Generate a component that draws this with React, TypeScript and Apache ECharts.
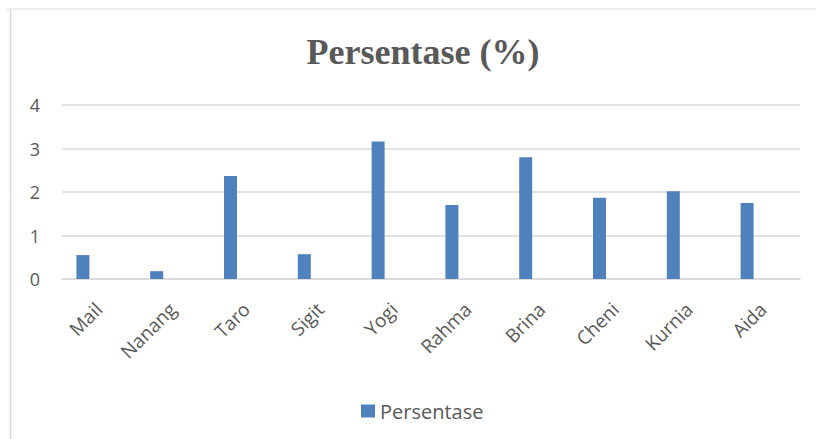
import React, { useEffect, useRef } from "react";
import * as echarts from "echarts";

const categories = ["Mail", "Nanang", "Taro", "Sigit", "Yogi", "Rahma", "Brina", "Cheni", "Kurnia", "Aida"];
const values = [0.55, 0.18, 2.37, 0.57, 3.16, 1.7, 2.8, 1.87, 2.02, 1.75];
const emptySlot = categories.map(() => null);
const seriesName = "Persentase";
const titleText = "Persentase (%)";

export default function App() {
  const ref = useRef<HTMLDivElement>(null);
  useEffect(() => {
    if (!ref.current) return;
    const chart = echarts.init(ref.current, undefined, { renderer: "svg" });
    chart.setOption({
      animation: false,
      backgroundColor: "#ffffff",
      title: {
        text: titleText,
        left: 418,
        textAlign: "center",
        top: 29,
        textStyle: {
          fontFamily: "Liberation Serif",
          fontWeight: "bold",
          fontSize: 36,
          color: "#595959",
        },
      },
      legend: {
        data: [seriesName],
        left: 356,
        top: 396,
        itemWidth: 14,
        itemHeight: 13,
        icon: "rect",
        textStyle: { fontFamily: "Open Sans", fontSize: 20, color: "#595959" },
      },
      graphic: [
        { type: "line", shape: { x1: 7, y1: 9, x2: 816, y2: 9 }, style: { stroke: "#d9d9d9", lineWidth: 1 } },
        { type: "line", shape: { x1: 10.5, y1: 9, x2: 10.5, y2: 439 }, style: { stroke: "#d9d9d9", lineWidth: 1.5 } },
      ],
      grid: { left: 62, right: 16, top: 105, bottom: 160, containLabel: false },
      xAxis: {
        type: "category",
        data: categories,
        axisLine: { lineStyle: { color: "#d9d9d9", width: 1.5 } },
        axisTick: { show: false },
        axisLabel: {
          rotate: 45,
          interval: 0,
          margin: 27,
          fontFamily: "Open Sans",
          fontSize: 19,
          color: "#595959",
          padding: [20, 0, 0, 0],
        },
      },
      yAxis: {
        type: "value",
        min: 0,
        max: 4,
        interval: 1,
        axisLine: { show: false },
        axisTick: { show: false },
        splitLine: { lineStyle: { color: "#d9d9d9", width: 1.5 } },
        axisLabel: { margin: 22, fontFamily: "Open Sans", fontSize: 18, color: "#595959" },
      },
      series: [
        {
          name: seriesName,
          type: "bar",
          data: values,
          barWidth: 13,
          barGap: "146%",
          itemStyle: { color: "#4f81bd" },
        },
        {
          name: "slot",
          type: "bar",
          data: emptySlot,
          barWidth: 13,
          barGap: "146%",
          itemStyle: { color: "transparent" },
          silent: true,
        },
      ],
    });
    return () => chart.dispose();
  }, []);
  return <div ref={ref} style={{ width: 816, height: 439, position: "absolute", left: 0, top: 0 }} />;
}
